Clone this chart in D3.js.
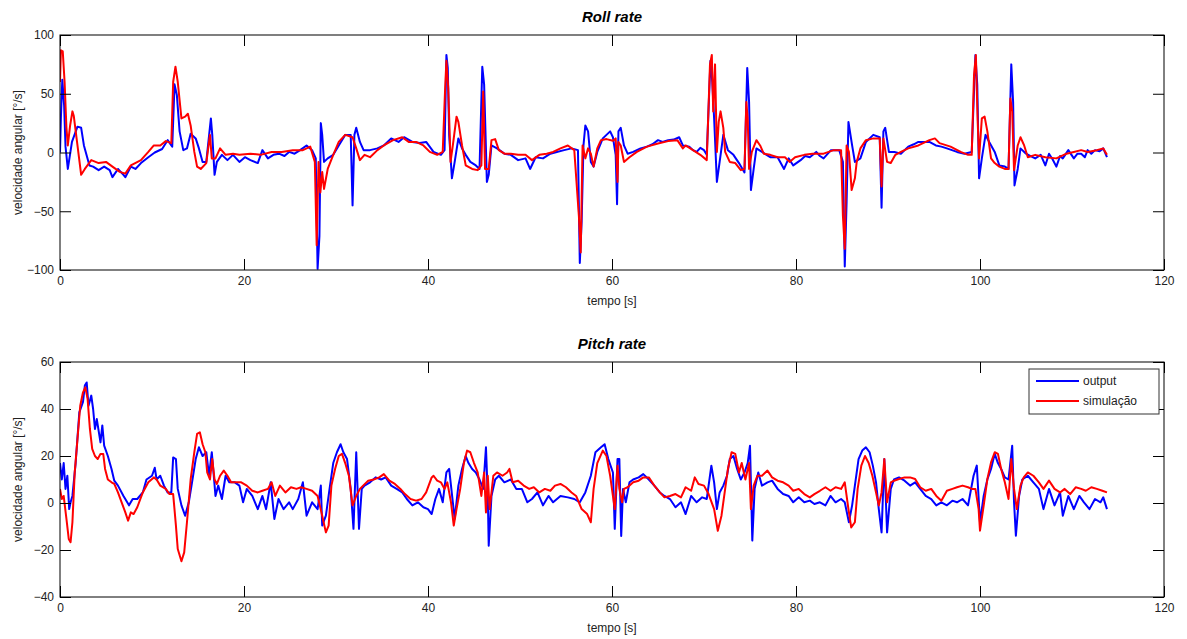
<!DOCTYPE html>
<html>
  <head>
    <meta charset="utf-8">
    <title>Roll rate / Pitch rate</title>
    <script src="https://d3js.org/d3.v7.min.js"></script>
    <style>
      body { margin: 0; background: #fff; }
      text { font-family: Arial, "Liberation Sans", sans-serif; }
    </style>
  </head>
  <body>
    <script>
        // [tempo (s), velocidade angular (deg/s)]
        var rollOutput = [[0,0],[0.1,30],[0.25,62],[0.45,40],[0.6,5],[0.85,-14],[1.3,9],[1.9,22],[2.3,21],[2.6,6],[3.2,-11],[3.6,-12],[4.2,-15],[4.8,-12],[5.4,-15],[5.7,-21],[6.3,-14],[6.9,-19],[7.1,-21],[7.7,-12],[8.2,-14],[8.8,-9],[9.6,-4],[10.3,0],[11.1,3],[11.7,10.5],[12.2,5],[12.45,58],[12.7,49],[13.0,18],[13.4,2],[13.8,3.5],[14.2,16],[14.75,12],[15.1,3.5],[15.5,-8],[15.9,-8],[16.4,29],[16.55,15],[16.8,-19],[17.05,-8],[17.6,-2],[18.2,-6.5],[18.8,-2],[19.5,-8],[20.1,-4],[20.7,-6.5],[21.5,-9],[22.0,2],[22.6,-5],[23.2,-2],[23.8,-1],[24.4,-3],[24.9,0.5],[25.5,-1],[26.1,2],[26.8,6],[27.4,2],[27.8,-5],[28.0,-99],[28.2,-71],[28.35,25],[28.5,15],[28.7,-8],[29.1,-5],[29.7,-2],[30.3,6],[31.0,15],[31.6,15],[31.8,-45],[32.0,15],[32.2,21],[32.6,9],[33.0,2],[33.7,2],[34.5,3.5],[35.2,6],[36.0,12],[36.8,9],[37.4,13],[38.3,9],[39.1,8],[39.8,9],[40.6,0.5],[41.4,-2],[41.8,2],[42.0,83],[42.15,72],[42.3,15],[42.6,-22],[42.9,-8],[43.3,12],[43.7,3.5],[44.1,-2],[44.6,-8],[45.2,-11],[45.6,-14],[45.9,73],[46.1,58],[46.4,-25],[46.6,-19],[46.9,6],[47.5,3.5],[48.3,-1],[49.0,-2],[49.8,-6.5],[50.6,-5],[51.1,-14],[51.7,-4],[52.5,-5],[53.3,-1],[54.0,0.5],[54.8,2],[55.6,3.5],[56.3,2],[56.5,-94],[56.7,-59],[56.9,6],[57.1,23],[57.4,18],[57.7,-8],[58.0,-12],[58.4,0.5],[59.0,12],[59.8,18],[60.1,13],
          [60.4,-2],[60.55,-44],[60.7,18],[60.95,21],[61.3,6],[61.7,-1],[62.3,0.5],[63.1,3.5],[63.8,5],[64.4,7],[65.0,10.5],[65.5,9],[66.1,10.5],[66.7,11],[67.3,13],[67.7,6],[68.4,5],[68.8,2],[69.2,0.5],[69.6,4],[70.0,2],[70.3,-2],[70.7,78],[70.9,60],[71.1,29],[71.4,-25],[71.7,-8],[72.1,15],[72.6,2],[73.2,-2],[73.8,-9],[74.4,-17],[74.7,72],[74.9,43],[75.1,-32],[75.4,-14],[75.7,3.5],[76.3,0.5],[76.8,-2],[77.2,-4],[78.0,-4],[78.7,-14],[79.2,-5],[79.7,-11],[80.5,-6.5],[81.0,-3],[81.5,-4],[82.2,0.5],[82.6,-3],[83.0,-5],[83.8,2],[84.7,2],[85.1,-8],[85.3,-97],[85.5,-42],[85.7,26],[86.1,6],[86.4,-8],[87.0,-5],[87.6,9],[88.4,15],[89.1,13],[89.3,-47],[89.5,18],[89.7,21],[90.1,0.5],[90.7,0.5],[91.4,-1],[92.2,5],[92.8,7],[93.3,9],[94.5,9],[95.2,6],[95.8,5],[96.4,3.5],[97.5,0.5],[98.3,-1],[99.1,0.5],[99.5,83],[99.7,58],[99.9,-22],[100.2,-5],[100.6,15],[101.0,9],[101.6,0.5],[102.1,-11],[102.7,-12],[103.1,-14],[103.4,75],[103.6,43],[103.75,-28],[104.1,-14],[104.4,3.5],[105.0,-1],[105.5,-3],[106.0,-5],[106.6,-2],[107.1,-11],[107.5,-1],[107.9,-6],[108.3,-12],[108.7,-3],[109.0,-5],[109.6,2],[110.2,-5],[110.6,-1],[111.0,-1],[111.4,-4],[111.7,2],[112.1,-1],[112.5,2],[113.0,1],[113.4,3.5],[113.8,-4]];

        var rollSim = [[0,60],[0.1,87],[0.3,86],[0.5,60],[0.7,21],[0.85,6],[1.1,23],[1.35,35],[1.5,31],[1.9,6],[2.3,-19],[2.7,-14],[3.4,-6.5],[4.2,-9],[5.0,-8],[5.7,-12],[6.5,-16.5],[7.1,-18],[7.7,-11],[8.8,-6.5],[9.6,0.5],[10.2,6],[10.9,6],[11.5,9.7],[12.1,8],[12.3,60],[12.55,73],[12.8,60],[13.2,29],[13.6,30.5],[13.9,33],[14.2,23],[14.6,0.5],[14.9,-12],[15.3,-14],[15.9,-9],[16.3,15],[16.5,-5],[16.9,-5],[17.4,3.5],[18.0,-2],[18.8,-1],[19.5,-2],[20.7,-1],[21.8,-2],[23.0,0.5],[24.1,0.5],[25.3,2],[26.4,2],[27.2,5],[27.7,-8],[27.9,-79],[28.1,-8],[28.3,-34],[28.5,-16.5],[28.7,-31],[29.1,-14],[29.7,-2],[30.3,9],[31.0,15],[31.8,13],[32.2,3.5],[32.6,-6.5],[33.1,-2],[33.7,-4],[34.5,2],[35.2,6],[36.2,10.5],[37.2,13],[37.9,9],[38.7,9],[39.5,6],[40.2,0.5],[41.0,-2],[41.6,0.5],[41.85,52],[42.0,78],[42.2,55],[42.45,-8],[42.7,6],[43.1,30.5],[43.3,26],[43.7,6],[44.1,-11],[44.8,-14],[45.4,-15],[45.8,-11],[46.0,52],[46.2,-14],[46.6,-14],[46.9,10.5],[47.3,11.4],[47.7,2],[48.3,-1],[49.0,-1],[49.8,-2],[50.6,-2],[51.3,-6.5],[52.1,-2],[52.9,-1],[53.6,0.5],[54.4,3.5],[55.2,6],[55.9,2],[56.4,-54],[56.6,-85],[56.8,6],[57.1,-5],[57.4,3.5],[57.7,-1],[58.0,-12],[58.4,3.5],[58.8,10.5],[59.4,11.4],[60.1,10],
          [60.4,12],[60.6,-25],[60.7,9],[60.95,6],[61.3,-8],[61.9,-4],[62.7,0.5],[63.8,5],[65.0,7.7],[66.1,9.7],[67.1,10.5],[67.7,3.5],[68.0,6],[68.8,2],[69.6,-2],[70.3,-6.5],[70.65,75],[70.85,83],[71.0,35],[71.2,75],[71.4,0.5],[71.6,26],[71.8,35],[72.1,21],[72.3,0.5],[72.8,-8],[73.4,-9],[74.0,-15],[74.4,-14],[74.6,43],[74.75,29],[74.9,-14],[75.2,0.5],[75.7,10.5],[76.1,6],[76.5,-1],[77.2,-2],[78.0,-4],[78.8,-4],[79.3,-8],[79.9,-4],[80.9,-2],[81.8,-1],[83.0,-1],[84.1,2],[84.9,2],[85.1,-54],[85.3,-82],[85.5,6],[85.75,0.5],[86.05,-32],[86.4,-22],[86.6,-8],[87.0,3.5],[87.6,10.5],[88.4,12],[89.1,12],[89.3,-29],[89.5,12],[89.9,-8],[90.3,-9],[90.8,-2],[91.4,0.5],[92.2,3.5],[93.3,6],[94.5,10.5],[95.1,12],[95.6,8],[96.8,5],[97.9,0.5],[98.7,-2],[99.1,-2],[99.35,66],[99.55,83],[99.75,26],[99.9,-5],[100.2,29],[100.5,30.5],[100.8,18],[101.2,-5],[101.6,-9],[102.1,-12],[102.7,-14],[103.1,-14],[103.3,46],[103.5,35],[103.7,-15],[104.1,6],[104.4,13],[104.8,6],[105.2,-4],[106.0,-2],[107.1,-4],[108.3,-5],[109.4,-1],[110.2,0.5],[111.0,2],[111.7,0.5],[112.7,2],[113.4,3.5],[113.8,-2]];

        var pitchOutput = [[0,17],[0.2,10],[0.4,17],[0.6,6],[0.8,11.6],[1.0,-2.6],[1.15,0.3],[1.35,3],[1.7,17],[2.1,38.6],[2.5,43],[2.7,50],[2.9,51.3],[3.1,41.4],[3.4,45.7],[3.6,40],[3.8,31.5],[4.0,35.7],[4.4,25.8],[4.6,33],[4.8,24.4],[5.2,20],[5.6,14.5],[5.9,9.5],[6.3,7.4],[6.9,3],[7.5,-1],[7.9,1.7],[8.4,1.7],[9.0,4.5],[9.4,10],[10.0,11.6],[10.3,15],[10.5,10],[10.9,11.6],[11.3,7.4],[11.7,4.5],[12.1,4.5],[12.3,19.4],[12.6,18.7],[12.8,6],[13.2,-1],[13.6,-5.4],[14.0,0.3],[14.4,10],[14.75,18.7],[15.1,23.7],[15.5,20],[15.9,21.6],[16.2,11.6],[16.5,21.6],[16.9,3],[17.2,7.4],[17.6,1.7],[18.0,11.6],[18.4,8.8],[19.0,8.8],[19.5,7.4],[19.9,0.3],[20.3,6],[20.9,3],[21.5,-2.6],[22.0,3],[22.4,-2.6],[22.9,8.8],[23.3,-6.8],[23.75,1.7],[24.3,-2.6],[24.9,0.3],[25.3,-2.6],[25.9,1.7],[26.4,8.8],[26.8,-5.4],[27.4,0.3],[28.0,-2.6],[28.35,7.4],[28.5,-9.6],[28.9,-5.4],[29.3,6],[29.7,17],[30.1,21.6],[30.5,25],[30.8,21.6],[31.2,18.7],[31.6,6],[31.9,-11],[32.2,21.6],[32.5,-11],[32.8,6],[33.1,7.4],[33.7,8.8],[34.3,10.9],[34.9,10],[35.4,10.9],[36.0,7.4],[36.6,6],[37.2,4.5],[37.7,1.7],[38.3,-1],[38.9,0.3],[39.5,-1.8],[40.0,-2.6],[40.4,-4.7],[40.8,1.7],[41.2,6],[41.6,0.3],[42.0,13],[42.3,14.5],[42.7,0.3],[42.9,-6.8],[43.3,7.4],[43.7,14.5],[44.1,20],[44.4,17],[44.8,14.5],[45.2,13],[45.6,10],[46.0,6],[46.3,23.7],[46.5,3],[46.6,-18.2],[46.9,3],[47.3,10],[47.7,11.6],[48.3,8.8],[49.0,10],[49.6,6],[50.2,6],[50.8,0.3],[51.3,1.7],[51.9,4.5],[52.5,-1],[53.1,3],[53.6,0.3],[54.4,3],[55.2,2.4],[55.9,1.7],[56.5,0.3],[57.1,4.5],[57.7,11.6],[58.2,21.6],[58.8,23.7],[59.2,25],[59.6,18.7],[60.1,13],
          [60.3,-11],[60.6,18.7],[60.8,18.7],[61.0,-14],[61.2,6],[61.5,0.3],[61.9,8.8],[62.3,10],[62.9,10.9],[63.4,12.3],[64.0,10],[64.6,7.4],[65.2,4.5],[65.7,3],[66.3,1.7],[66.9,-1.8],[67.5,0.3],[68.0,-4.7],[68.6,3],[69.2,0.3],[69.8,2.4],[70.3,1.7],[70.8,15.9],[71.1,8.8],[71.4,-2.6],[71.7,4.5],[72.1,7.4],[72.5,11.6],[72.8,18.7],[73.2,20],[73.6,14.5],[74.0,10],[74.4,13],[74.75,17],[75.0,24.4],[75.25,-16],[75.5,6],[75.9,13],[76.3,7.4],[76.9,8.8],[77.4,9.5],[78.0,6],[78.6,3.8],[79.2,3],[79.7,0.3],[80.3,2.4],[80.9,0.3],[81.5,1],[82.0,-0.4],[82.6,0.3],[83.2,-1],[83.75,3],[84.3,0.3],[84.9,1.7],[85.3,0.3],[85.75,-8.2],[86.1,-1],[86.4,7.4],[86.8,18.7],[87.2,22.3],[87.6,23.7],[88.0,21.6],[88.35,15.9],[88.7,8.8],[89.0,-2.6],[89.3,-12.5],[89.6,18.7],[89.9,-12.5],[90.3,6],[90.65,10],[91.2,10.9],[91.8,9.5],[92.4,7.4],[92.95,8.8],[93.5,6],[94.1,3],[94.7,1.7],[95.25,-1],[95.8,0.3],[96.4,-1],[97.0,1],[97.5,0.3],[98.1,1.7],[98.7,-1],[99.3,11.6],[99.65,15.9],[100.0,-8.2],[100.4,3],[100.8,10],[101.2,14.5],[101.6,20.9],[101.95,17],[102.3,14.5],[102.7,10.9],[103.1,10],[103.5,24.4],[103.7,0.3],[103.9,-13.9],[104.25,3],[104.6,10],[105.2,11.6],[105.8,8.8],[106.4,6],[106.9,-2.6],[107.5,6],[108.1,-1],[108.7,4.5],[109.0,-5.4],[109.6,3],[110.2,-2.6],[110.8,3],[111.3,0.3],[111.9,-2.6],[112.5,1.7],[113.1,0.3],[113.4,2.4],[113.8,-2.6]];

        var pitchSim = [[0,6],[0.2,1.7],[0.4,3],[0.7,-6.8],[0.95,-15.3],[1.15,-16.7],[1.35,-8.2],[1.6,13],[1.9,27.2],[2.2,41.4],[2.5,47.1],[2.75,49.2],[3.0,44.3],[3.25,31.5],[3.5,23],[3.8,20],[4.1,18.7],[4.4,20.9],[4.7,20.9],[4.9,14.5],[5.2,10],[5.6,8.8],[5.9,8.1],[6.3,4.5],[6.7,0.3],[7.1,-4],[7.4,-7.5],[7.7,-4],[8.0,-4.7],[8.4,-1.8],[9.0,4.5],[9.6,8.8],[10.2,10.9],[10.5,10],[10.9,7.4],[11.5,6],[11.9,3.8],[12.3,3.8],[12.6,-9.6],[12.8,-19.6],[13.2,-24.8],[13.5,-21],[13.8,-8.2],[14.2,10],[14.6,21.6],[14.9,29.4],[15.2,30.1],[15.5,25],[15.8,21.6],[16.0,13],[16.3,10],[16.55,18.7],[16.8,10],[17.05,8.1],[17.4,11.6],[17.8,13.8],[18.2,11.6],[18.6,8.8],[19.2,8.8],[19.7,8.8],[20.3,7.4],[20.9,5.2],[21.5,4.5],[22.0,5.2],[22.6,6],[23.0,8.8],[23.4,3],[23.9,7.4],[24.5,4.5],[25.1,6.7],[25.7,6],[26.2,6.7],[26.8,6],[27.4,5.2],[28.0,3],[28.5,-5.4],[28.9,-12.5],[29.2,-9.6],[29.5,7.4],[29.9,14.5],[30.3,20],[30.65,20.9],[31.0,17],[31.4,11.6],[31.8,-1],[32.2,3],[32.6,6],[32.95,7.4],[33.5,9.5],[34.1,10],[34.7,10.9],[35.2,12.3],[35.8,9.5],[36.4,8.1],[37.0,6],[37.5,3.8],[38.1,1.7],[38.7,1],[39.3,1.7],[39.8,4.5],[40.4,10.9],[40.6,11.6],[41.0,9.5],[41.4,8.8],[41.8,6],[42.1,8.8],[42.5,0.3],[42.8,-9.6],[43.1,-2.6],[43.5,6],[43.9,17],[44.25,22.3],[44.6,21.6],[45.0,17],[45.4,13],[45.8,3],[46.1,13],[46.3,-4],[46.5,11.6],[46.7,-2.6],[47.1,11.6],[47.5,13],[48.1,11.6],[48.6,13],[48.85,14.5],[49.2,8.8],[49.8,9.5],[50.4,7.4],[51.0,6],[51.5,6.7],[52.1,4.5],[52.7,6],[53.3,5.2],[53.8,7.4],[54.4,8.1],[55.0,6.7],[55.6,4.5],[56.1,3],[56.7,-2.6],[57.3,-4.7],[57.7,-8.2],[58.0,6],[58.4,17],[59.0,22.3],[59.4,20],[59.8,11.6],[60.1,3],
          [60.3,-2.6],[60.6,15.9],[60.8,6],[61.1,0.3],[61.3,6],[61.7,6.7],[62.3,8.8],[62.9,9.5],[63.4,10.9],[64.0,10.9],[64.6,7.4],[65.2,4.5],[65.7,2.4],[66.3,3],[66.9,3.8],[67.5,2.4],[68.0,6.7],[68.6,5.2],[69.0,10.9],[69.4,8.1],[70.0,7.4],[70.5,3.8],[71.1,-2.6],[71.5,-11.8],[71.9,-5.4],[72.3,6],[72.6,14.5],[73.0,21.6],[73.4,20.9],[73.8,13],[74.1,17],[74.5,10],[74.9,17],[75.1,-2.6],[75.4,7.4],[75.8,11.6],[76.3,11.6],[76.9,13.8],[77.4,10.9],[78.0,9.5],[78.6,8.8],[79.2,7.4],[79.7,5.2],[80.3,6],[80.9,3.8],[81.5,2.4],[82.0,3.8],[82.6,5.2],[83.2,6.7],[83.75,5.2],[84.3,6.7],[84.9,6],[85.3,8.8],[85.7,-2.6],[86.0,-10.4],[86.4,-8.2],[86.7,6],[87.1,15.9],[87.5,20],[87.9,17],[88.3,11.6],[88.7,4.5],[89.0,-1.1],[89.3,4.5],[89.6,18.7],[89.9,0.3],[90.3,8.8],[90.65,9.5],[91.2,10.2],[91.8,10.9],[92.4,10.9],[92.95,10.2],[93.5,6.7],[94.1,5.2],[94.7,6],[95.25,3],[95.8,1],[96.4,5.2],[97.0,6],[97.5,6.7],[98.1,7.4],[98.7,6.7],[99.1,6],[99.5,6],[99.85,-2.6],[100.0,-11.8],[100.4,-1.1],[100.8,10.2],[101.2,17.3],[101.6,21.6],[101.95,20.9],[102.3,14.5],[102.7,8.8],[103.1,1.7],[103.4,18.7],[103.7,6],[104.0,-2.6],[104.4,7.4],[104.75,10.9],[105.2,13],[105.8,11.6],[106.4,8.8],[106.9,6],[107.5,9.5],[108.1,6],[108.7,4.5],[109.2,6],[109.8,3.8],[110.4,6.7],[111.0,6],[111.5,5.2],[112.1,6.7],[112.7,6],[113.3,5.2],[113.8,4.5]];

        var xTicks = [0, 20, 40, 60, 80, 100, 120];
        var rollTicks = [-100, -50, 0, 50, 100];
        var pitchTicks = [-40, -20, 0, 20, 40, 60];
        var legendNames = ["output", "simulação"];
        var colors = ["#0000ff", "#ff0000"];

        var W = 1187, H = 639;
        var left = 60, right = 1164;

        var svg = d3.select("body").append("svg")
            .attr("width", W)
            .attr("height", H)
            .style("display", "block");

        svg.append("rect").attr("width", W).attr("height", H).attr("fill", "#fff");

        var x = d3.scaleLinear().domain([0, 120]).range([left, right]);

        function panel(id, top, bottom, yDomain, yTicks, title, series, legend) {
            var y = d3.scaleLinear().domain(yDomain).range([bottom, top]);
            var g = svg.append("g");

            g.append("clipPath").attr("id", id)
              .append("rect")
                .attr("x", left).attr("y", top)
                .attr("width", right - left).attr("height", bottom - top);

            var line = d3.line()
                .x(function(d) { return x(d[0]); })
                .y(function(d) { return y(d[1]); });

            series.forEach(function(s, i) {
                g.append("path")
                  .datum(s)
                  .attr("clip-path", "url(#" + id + ")")
                  .attr("fill", "none")
                  .attr("stroke", colors[i])
                  .attr("stroke-width", 2)
                  .attr("stroke-linejoin", "round")
                  .attr("d", line);
            });

            var tl = 11;
            // ticks point inwards on all four sides
            g.append("g")
              .attr("transform", "translate(0," + bottom + ")")
              .call(d3.axisBottom(x).tickValues(xTicks).tickSizeInner(-tl).tickSizeOuter(0).tickPadding(6))
              .call(function(a) {
                  a.select(".domain").remove();
                  a.selectAll("text").attr("font-size", "12px").attr("fill", "#222");
              });
            g.append("g")
              .attr("transform", "translate(0," + top + ")")
              .call(d3.axisTop(x).tickValues(xTicks).tickSizeInner(-tl).tickSizeOuter(0).tickFormat(""))
              .call(function(a) { a.select(".domain").remove(); });

            g.append("g")
              .attr("transform", "translate(" + left + ",0)")
              .call(d3.axisLeft(y).tickValues(yTicks).tickSizeInner(-tl).tickSizeOuter(0).tickPadding(6))
              .call(function(a) {
                  a.select(".domain").remove();
                  a.selectAll("text").attr("font-size", "12px").attr("fill", "#222");
              });
            g.append("g")
              .attr("transform", "translate(" + right + ",0)")
              .call(d3.axisRight(y).tickValues(yTicks).tickSizeInner(-tl).tickSizeOuter(0).tickFormat(""))
              .call(function(a) { a.select(".domain").remove(); });

            g.append("rect")
              .attr("x", left).attr("y", top)
              .attr("width", right - left).attr("height", bottom - top)
              .attr("fill", "none").attr("stroke", "#000").attr("stroke-width", 1);

            g.append("text")
              .attr("x", (left + right) / 2).attr("y", top - 13)
              .attr("text-anchor", "middle")
              .attr("font-size", "15px").attr("font-weight", "bold").attr("font-style", "italic")
              .text(title);

            g.append("text")
              .attr("x", (left + right) / 2).attr("y", bottom + 35)
              .attr("text-anchor", "middle")
              .attr("font-size", "12px").attr("fill", "#222")
              .text("tempo [s]");

            g.append("text")
              .attr("transform", "translate(22," + (top + bottom) / 2 + ") rotate(-90)")
              .attr("text-anchor", "middle")
              .attr("font-size", "12px").attr("fill", "#222")
              .text("velocidade angular [°/s]");

            if (legend) {
                var lg = g.append("g").attr("transform", "translate(1029," + (top + 7) + ")");
                lg.append("rect").attr("width", 130).attr("height", 45)
                  .attr("fill", "#fff").attr("stroke", "#333");
                legendNames.forEach(function(n, i) {
                    var yy = 12 + i * 20;
                    lg.append("line").attr("x1", 7).attr("x2", 50).attr("y1", yy).attr("y2", yy)
                      .attr("stroke", colors[i]).attr("stroke-width", 2);
                    lg.append("text").attr("x", 54).attr("y", yy + 4)
                      .attr("font-size", "12px").attr("fill", "#222").text(n);
                });
            }
        }

        panel("clipRoll", 35, 270, [-100, 100], rollTicks, "Roll rate", [rollOutput, rollSim], false);
        panel("clipPitch", 362, 597, [-40, 60], pitchTicks, "Pitch rate", [pitchOutput, pitchSim], true);
    </script>
  </body>
</html>
